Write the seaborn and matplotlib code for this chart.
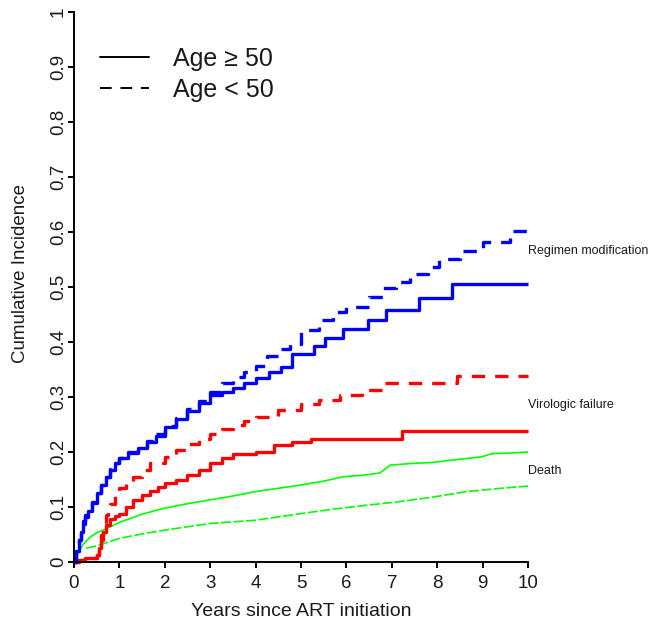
import matplotlib
matplotlib.use("Agg")
import matplotlib.pyplot as plt
from matplotlib.lines import Line2D
import seaborn as sns
import pandas as pd

# Regimen modification
reg_old_t = [0, 0.05, 0.1, 0.15, 0.2, 0.25, 0.3, 0.4, 0.5, 0.6, 0.7, 0.8, 0.9, 1.0, 1.2, 1.4, 1.6, 1.8, 2.0,
             2.25, 2.5, 2.75, 3.0, 3.25, 3.5, 3.75, 4.0, 4.3, 4.55, 4.8, 5.29, 5.53, 5.93, 6.47, 6.87, 7.6, 8.32, 10]
reg_old_v = [0, 0.02, 0.04, 0.055, 0.07, 0.082, 0.092, 0.108, 0.125, 0.14, 0.155, 0.168, 0.18, 0.19, 0.198, 0.208,
             0.218, 0.23, 0.245, 0.26, 0.275, 0.29, 0.303, 0.31, 0.316, 0.325, 0.334, 0.345, 0.355, 0.379, 0.393,
             0.408, 0.424, 0.44, 0.459, 0.48, 0.506, 0.506]
reg_young_t = [0, 0.05, 0.1, 0.15, 0.2, 0.25, 0.3, 0.4, 0.5, 0.6, 0.7, 0.8, 0.9, 1.0, 1.2, 1.4, 1.6, 1.8, 2.0,
               2.25, 2.5, 2.75, 3.0, 3.25, 3.5, 3.75, 4.0, 4.25, 4.5, 4.75, 5.0, 5.4, 5.7, 6.0, 6.5, 6.8, 7.1,
               7.4, 7.8, 8.05, 8.5, 9.0, 9.6, 10]
reg_young_v = [0, 0.02, 0.04, 0.06, 0.075, 0.085, 0.095, 0.11, 0.125, 0.14, 0.155, 0.17, 0.18, 0.19, 0.2, 0.21,
               0.22, 0.232, 0.247, 0.262, 0.278, 0.293, 0.31, 0.325, 0.336, 0.345, 0.357, 0.375, 0.388, 0.397,
               0.421, 0.44, 0.454, 0.463, 0.481, 0.499, 0.51, 0.523, 0.537, 0.551, 0.566, 0.581, 0.601, 0.601]

# Virologic failure
vf_old_t = [0, 0.1, 0.25, 0.5, 0.55, 0.6, 0.65, 0.7, 0.8, 0.9, 1.0, 1.15, 1.3, 1.5, 1.67, 1.85, 2.0, 2.25, 2.5,
            2.75, 3.0, 3.25, 3.5, 4.0, 4.4, 4.8, 5.23, 7.22, 10]
vf_old_v = [0, 0.003, 0.007, 0.012, 0.025, 0.04, 0.055, 0.068, 0.078, 0.083, 0.088, 0.1, 0.112, 0.122, 0.13,
            0.137, 0.143, 0.15, 0.158, 0.168, 0.18, 0.19, 0.196, 0.2, 0.212, 0.218, 0.224, 0.238, 0.238]
vf_young_t = [0, 0.1, 0.25, 0.5, 0.55, 0.6, 0.65, 0.7, 0.75, 0.8, 0.9, 1.0, 1.15, 1.3, 1.5, 1.67, 2.0, 2.25,
              2.5, 2.75, 3.0, 3.25, 3.5, 3.75, 4.0, 4.5, 5.0, 5.4, 5.86, 6.34, 6.8, 8.43, 10]
vf_young_v = [0, 0.003, 0.007, 0.012, 0.03, 0.05, 0.07, 0.085, 0.095, 0.105, 0.12, 0.134, 0.145, 0.155, 0.168,
              0.18, 0.191, 0.203, 0.215, 0.224, 0.233, 0.241, 0.249, 0.256, 0.264, 0.276, 0.288, 0.295, 0.303,
              0.312, 0.325, 0.339, 0.339]

# Death
death_old_t = [0, 0.1, 0.2, 0.35, 0.5, 0.75, 1.0, 1.5, 2.0, 2.5, 3.0, 3.5, 4.0, 4.5, 5.0, 5.5, 5.93, 6.4, 6.74,
               6.96, 7.4, 7.9, 8.4, 8.97, 9.2, 9.6, 10]
death_old_v = [0, 0.018, 0.032, 0.045, 0.053, 0.062, 0.072, 0.087, 0.098, 0.106, 0.113, 0.12, 0.128, 0.134, 0.14,
               0.147, 0.155, 0.158, 0.162, 0.176, 0.179, 0.181, 0.186, 0.191, 0.197, 0.198, 0.2]
death_young_t = [0.27, 0.57, 1.0, 1.5, 2.0, 2.5, 3.0, 3.5, 4.0, 4.5, 5.0, 5.7, 6.42, 7.1, 7.9, 8.65, 9.4, 10]
death_young_v = [0.025, 0.031, 0.043, 0.051, 0.058, 0.064, 0.07, 0.073, 0.076, 0.082, 0.088, 0.096,
                 0.103, 0.109, 0.118, 0.128, 0.134, 0.138]

grupos = ["Age ≥ 50", "Age < 50"]


def montar(t_old, v_old, t_young, v_young):
    df_old = pd.DataFrame({"ano": t_old, "inc": v_old, "idade": grupos[0]})
    df_young = pd.DataFrame({"ano": t_young, "inc": v_young, "idade": grupos[1]})
    return pd.concat([df_old, df_young], ignore_index=True)


sns.set_style("ticks")
plt.rcParams["font.family"] = ["Liberation Sans", "DejaVu Sans"]

fig, ax = plt.subplots(figsize=(6.49, 6.25), dpi=100)
fig.subplots_adjust(left=0.114, right=0.8136, bottom=0.1008, top=0.9808)

# (dados, cor, espessura, traço tracejado, tipo de desenho)
curvas = [
    (montar(death_old_t, death_old_v, death_young_t, death_young_v), "#00FF00", 1.2, (6.0, 1.5), "default"),
    (montar(vf_old_t, vf_old_v, vf_young_t, vf_young_v), "#FF0000", 2.4, (4.0, 3.0), "steps-post"),
    (montar(reg_old_t, reg_old_v, reg_young_t, reg_young_v), "#0000FF", 2.4, (4.0, 3.0), "steps-post"),
]
for df, cor, lw, traco, desenho in curvas:
    sns.lineplot(data=df, x="ano", y="inc", style="idade", style_order=grupos,
                 dashes={grupos[0]: "", grupos[1]: traco}, color=cor, linewidth=lw,
                 estimator=None, drawstyle=desenho, legend=False, ax=ax)
for ln in ax.lines:
    ln.set_clip_on(False)
    ln.set_solid_capstyle("butt")
    ln.set_dash_capstyle("butt")

ax.set_xlim(0, 10)
ax.set_ylim(0, 1)
ax.set_xticks(range(0, 11))
ax.set_yticks([i / 10 for i in range(11)])
ax.set_yticklabels(["0"] + [f"0.{i}" for i in range(1, 10)] + ["1"], rotation=90, va="center")
ax.tick_params(labelsize=13.5, width=1.4, length=4.5, color="black", labelcolor="#1a1a1a")
ax.tick_params(axis="x", pad=4.5)
ax.tick_params(axis="y", pad=0.5)
for lado in ["top", "right"]:
    ax.spines[lado].set_visible(False)
for lado in ["left", "bottom"]:
    ax.spines[lado].set_linewidth(1.4)
    ax.spines[lado].set_color("black")

ax.set_xlabel("Years since ART initiation", fontsize=14, color="#1a1a1a", labelpad=8)
ax.set_ylabel("Cumulative Incidence", fontsize=13.5, color="#1a1a1a")
ax.yaxis.set_label_coords(-0.099, 0.524)

# rótulos à direita das curvas
ax.text(10.0, 0.566, "Regimen modification", fontsize=9, va="center", ha="left", clip_on=False, color="#1a1a1a")
ax.text(10.0, 0.285, "Virologic failure", fontsize=9, va="center", ha="left", clip_on=False, color="#1a1a1a")
ax.text(10.0, 0.165, "Death", fontsize=9, va="center", ha="left", clip_on=False, color="#1a1a1a")

alcas = [Line2D([], [], color="black", lw=1.4),
         Line2D([], [], color="black", lw=1.4, dashes=(6, 4.5))]
ax.legend(alcas, grupos, loc="upper left", bbox_to_anchor=(0.057, 0.936), frameon=False, fontsize=18,
          handlelength=1.96, handletextpad=0.96, labelspacing=0.26, borderpad=0, borderaxespad=0,
          labelcolor="#1a1a1a")

fig.savefig("out.png", dpi=100)
